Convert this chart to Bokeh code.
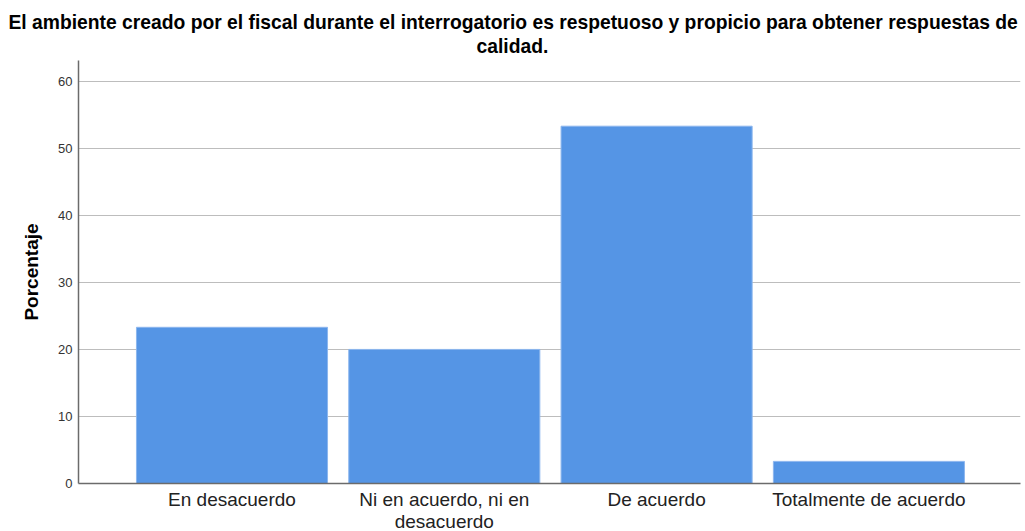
from bokeh.plotting import figure
from bokeh.models import Range1d, FixedTicker, Title
from bokeh.embed import file_html
from bokeh.resources import INLINE

categories = ["En desacuerdo", "Ni en acuerdo, ni en\ndesacuerdo", "De acuerdo", "Totalmente de acuerdo"]
percentages = [23.3, 20.0, 53.3, 3.3]
y_ticks = [0, 10, 20, 30, 40, 50, 60]
title_line1 = "El ambiente creado por el fiscal durante el interrogatorio es respetuoso y propicio para obtener respuestas de"
title_line2 = "calidad."

FONT = "Liberation Sans"
xs = list(range(len(categories)))

p = figure(frame_width=942, frame_height=423, output_backend="svg", toolbar_location=None,
           x_range=Range1d(-0.723, 3.714), y_range=Range1d(0, 63.1),
           min_border_left=78, min_border_right=5, min_border_top=60, min_border_bottom=48)
p.title = None
p.outline_line_color = None
p.background_fill_color = "white"
p.border_fill_color = "white"

p.vbar(x=xs, top=percentages, width=0.9, fill_color="#5595e5", line_color="#8cb6ee", line_width=1)

t2 = Title(text=title_line2, align="left", offset=398, text_font=FONT, text_font_size="19.3px",
           text_font_style="bold", text_color="black", standoff=7)
t1 = Title(text=title_line1, align="left", offset=-70, text_font=FONT, text_font_size="19.3px",
           text_font_style="bold", text_color="black", standoff=-5)
p.add_layout(t2, "above")
p.add_layout(t1, "above")

yax = p.yaxis[0]
yax.ticker = FixedTicker(ticks=y_ticks)
yax.axis_label = "Porcentaje"
yax.axis_label_text_font = FONT
yax.axis_label_text_font_size = "19px"
yax.axis_label_text_font_style = "bold"
yax.axis_label_text_color = "black"
yax.axis_label_standoff = 13
yax.major_label_text_font = FONT
yax.major_label_text_font_size = "13px"
yax.major_label_text_color = "#333333"
yax.major_label_standoff = 6
yax.major_tick_out = 0
yax.major_tick_in = 0
yax.major_tick_line_color = None
yax.minor_tick_line_color = None
yax.axis_line_color = "#6b6b6b"
yax.axis_line_width = 1.5

xax = p.xaxis[0]
xax.ticker = FixedTicker(ticks=xs)
xax.major_label_overrides = {i: c for i, c in zip(xs, categories)}
xax.major_label_text_font = FONT
xax.major_label_text_font_size = "19px"
xax.major_label_text_color = "#222222"
xax.major_label_text_line_height = 1.05
xax.major_label_standoff = 5
xax.major_tick_out = 0
xax.major_tick_in = 0
xax.major_tick_line_color = None
xax.minor_tick_line_color = None
xax.axis_line_color = "#6b6b6b"
xax.axis_line_width = 1.5

p.xgrid.grid_line_color = None
p.ygrid.ticker = FixedTicker(ticks=y_ticks)
p.ygrid.grid_line_color = "#bdbdbd"
p.ygrid.grid_line_width = 1

open("out.html", "w").write(file_html(p, INLINE))
